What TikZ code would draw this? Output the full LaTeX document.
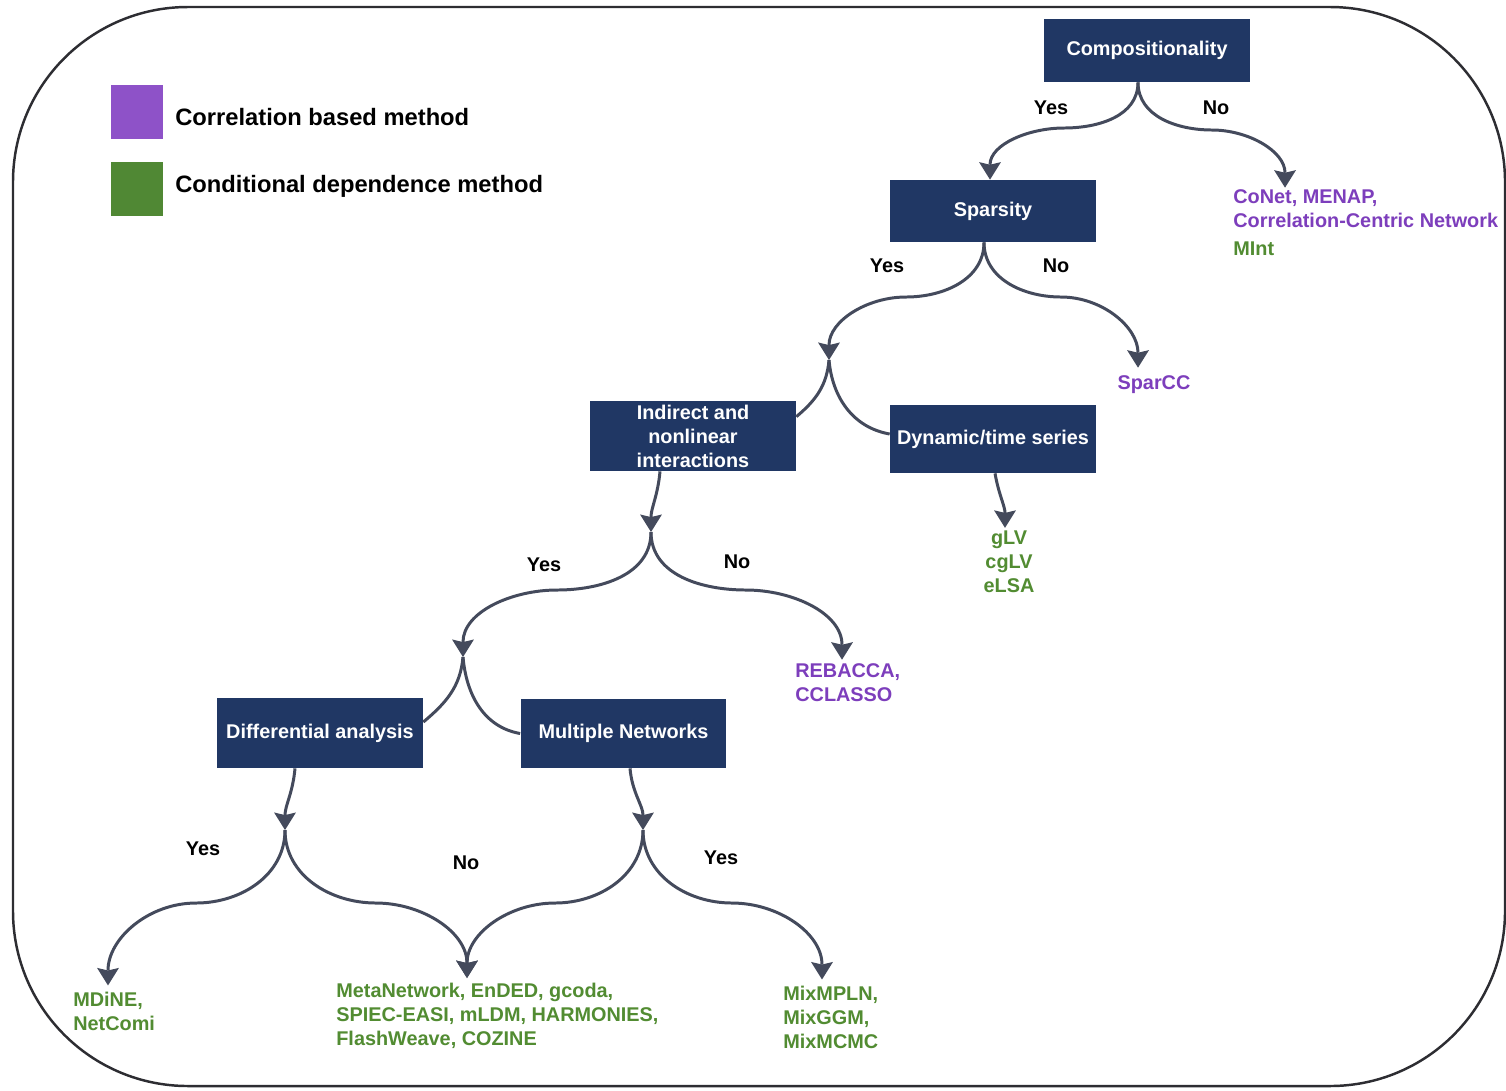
\documentclass[tikz,border=0pt]{standalone}
\usepackage{fontspec}
\setmainfont{Liberation Sans}
\usetikzlibrary{arrows.meta,calc}
\definecolor{navy}{RGB}{32,55,100}
\definecolor{arrowc}{RGB}{68,74,92}
\definecolor{purp}{RGB}{125,62,188}
\definecolor{purpsq}{RGB}{142,82,200}
\definecolor{grn}{RGB}{82,140,50}
\definecolor{grnsq}{RGB}{80,136,52}
\definecolor{framec}{RGB}{45,45,50}
\begin{document}
\begin{tikzpicture}[x=0.02cm,y=-0.02cm,
  every node/.style={font=\fontsize{11.3}{13.6}\selectfont\bfseries, inner sep=0pt},
  box/.style={fill=navy, text=white, minimum width=4.12cm, align=center},
  lab/.style={text=black},
  cmeth/.style={text=purp, align=left},
  gmeth/.style={text=grn, align=left},
  arr/.style={draw=arrowc, line width=1.7pt, -{Stealth[length=10pt,width=12.5pt,inset=1.5pt,line width=0pt]}},
  link/.style={draw=arrowc, line width=1.7pt}]
\useasboundingbox (0,0) rectangle (1506,1090);
\fill[white] (0,0) rectangle (1506,1090);
% frame
\draw[framec, line width=1.4pt, rounded corners=3.5cm] (13,7) rectangle (1505,1086);

% legend
\node[fill=purpsq, minimum width=1.04cm, minimum height=1.08cm] (lp) at (137,112) {};
\node[fill=grnsq, minimum width=1.04cm, minimum height=1.08cm] (lg) at (137,189) {};
\node[anchor=west, font=\fontsize{13.5}{16}\selectfont\bfseries] (lpt) at (175,117) {Correlation based method};
\node[anchor=west, font=\fontsize{13.5}{16}\selectfont\bfseries] (lgt) at (175,186) {Conditional dependence method};

% boxes
\node[box, minimum height=1.26cm] (comp) at (1147,50.5) {Compositionality};
\node[box, minimum height=1.24cm] (spar) at (993,211) {Sparsity};
\node[box, minimum height=1.40cm] (indi) at (693,436) {Indirect and\\nonlinear\\interactions};
\node[box, minimum height=1.36cm] (dyn) at (993,439) {Dynamic/time series};
\node[box, minimum height=1.40cm] (diff) at (320,733) {Differential analysis};
\node[box, minimum height=1.38cm] (mult) at (623.5,733.5) {Multiple Networks};

% method texts
\node[cmeth, anchor=west] (conet) at (1233,209) {CoNet, MENAP,\\Correlation-Centric Network};
\node[gmeth, anchor=west] (mint) at (1233,249) {MInt};
\node[cmeth] (sparcc) at (1154,385) {SparCC};
\node[gmeth, align=center] (glv) at (1009,562) {gLV\\cgLV\\eLSA};
\node[cmeth, anchor=west] (rebacca) at (795,683) {REBACCA,\\CCLASSO};
\node[gmeth, anchor=west] (mdine) at (73,1011) {MDiNE,\\NetComi};
\node[gmeth, anchor=west] (meta) at (336,1016) {MetaNetwork, EnDED, gcoda,\\SPIEC-EASI, mLDM, HARMONIES,\\FlashWeave, COZINE};
\node[gmeth, anchor=west] (mix) at (783,1017) {MixMPLN,\\MixGGM,\\MixMCMC};

% yes/no labels
\node[lab] (y1) at (1051,108) {Yes};
\node[lab] (n1) at (1216,108) {No};
\node[lab] (y2) at (887,266) {Yes};
\node[lab] (n2) at (1056,266) {No};
\node[lab] (y3) at (544,565) {Yes};
\node[lab] (n3) at (737,562) {No};
\node[lab] (y4) at (203,849) {Yes};
\node[lab] (n4) at (466,863) {No};
\node[lab] (y5) at (721,858) {Yes};

% junctions
\coordinate (j1) at (829,360);
\coordinate (j2) at (651,532);
\coordinate (j3) at (463,657);
\coordinate (j4) at (285,830);
\coordinate (j5) at (643,830);

% connectors
\draw[arr] ($(comp.south)+(-9,0)$) to[out=-90,in=0] (1064,128) to[out=180,in=90] ($(spar.north)+(-3,0)$);
\draw[arr] ($(comp.south)+(-9,0)$) to[out=-90,in=180] (1212,130) to[out=0,in=90] ($(conet.north west)+(52,-2)$);

\draw[arr] ($(spar.south)+(-9,0)$) to[out=-90,in=0] (906,297) to[out=180,in=90] (j1);
\draw[arr] ($(spar.south)+(-9,0)$) to[out=-90,in=180] (1061,297) to[out=0,in=90] ($(sparcc.north)+(-16,-8)$);

\draw[link] (j1) to[out=-95,in=40] ($(indi.north east)+(0,16)$);
\draw[link] (j1) to[out=-85,in=170] ($(dyn.west)+(0,-5)$);

\draw[arr] ($(indi.south)+(-33,0)$) to[out=-95,in=90] (j2);
\draw[arr] ($(dyn.south)+(2,0)$) to[out=-80,in=90] ($(glv.north)+(-4,-3)$);

\draw[arr] (j2) to[out=-90,in=0] (557,590) to[out=180,in=90] (j3);
\draw[arr] (j2) to[out=-90,in=180] (746,590) to[out=0,in=90] ($(rebacca.north west)+(47,-4)$);

\draw[link] (j3) to[out=-95,in=40] ($(diff.east)+(0,-11)$);
\draw[link] (j3) to[out=-85,in=170] (mult.west);

\draw[arr] ($(diff.south)+(-25,0)$) to[out=-95,in=90] (j4);
\draw[arr] ($(mult.south)+(6.5,0)$) to[out=-85,in=90] (j5);

\draw[arr] (j4) to[out=-90,in=0] (196,903) to[out=180,in=90] ($(mdine.north west)+(35,-6)$);
\draw[arr] (j4) to[out=-90,in=180] (376,903) to[out=0,in=90] ($(meta.north west)+(131,-5)$);
\draw[arr] (j5) to[out=-90,in=0] (555,903) to[out=180,in=90] ($(meta.north west)+(131,-5)$);
\draw[arr] (j5) to[out=-90,in=180] (732,903) to[out=0,in=90] ($(mix.north west)+(39,-6)$);
\end{tikzpicture}
\end{document}
